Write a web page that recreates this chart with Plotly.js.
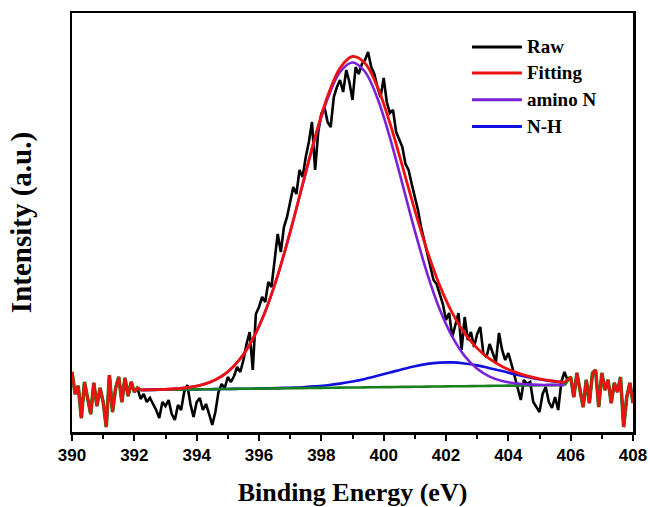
<!DOCTYPE html>
<html>
<head>
<meta charset="utf-8">
<script src="https://cdn.plot.ly/plotly-3.0.1.min.js"></script>
<style>html,body{margin:0;padding:0;background:#fff;}#chart{width:650px;height:507px;}</style>
</head>
<body>
<div id="chart"></div>
<script>
// ---- data (arbitrary intensity units) ----
const rawEnergy = [
390.0,390.1,390.2,390.3,390.4,390.5,390.6,390.7,390.8,390.9,
391.0,391.1,391.2,391.3,391.4,391.5,391.6,391.7,391.8,391.9,
392.0,392.1,392.2,392.3,392.4,392.5,392.6,392.7,392.8,392.9,
393.0,393.1,393.2,393.3,393.4,393.5,393.6,393.7,393.8,393.9,
394.0,394.1,394.2,394.3,394.4,394.5,394.6,394.7,394.8,394.9,
395.0,395.1,395.2,395.3,395.4,395.5,395.6,395.7,395.8,395.9,
396.0,396.1,396.2,396.3,396.4,396.5,396.6,396.7,396.8,396.9,
397.0,397.1,397.2,397.3,397.4,397.5,397.6,397.7,397.8,397.9,
398.0,398.1,398.2,398.3,398.4,398.5,398.6,398.7,398.8,398.9,
399.0,399.1,399.2,399.3,399.4,399.5,399.6,399.7,399.8,399.9,
400.0,400.1,400.2,400.3,400.4,400.5,400.6,400.7,400.8,400.9,
401.0,401.1,401.2,401.3,401.4,401.5,401.6,401.7,401.8,401.9,
402.0,402.1,402.2,402.3,402.4,402.5,402.6,402.7,402.8,402.9,
403.0,403.1,403.2,403.3,403.4,403.5,403.6,403.7,403.8,403.9,
404.0,404.1,404.2,404.3,404.4,404.5,404.6,404.7,404.8,404.9,
405.0,405.1,405.2,405.3,405.4,405.5,405.6,405.7,405.8,405.9,
406.0,406.1,406.2,406.3,406.4,406.5,406.6,406.7,406.8,406.9,
407.0,407.1,407.2,407.3,407.4,407.5,407.6,407.7,407.8,407.9,
408.0];
const rawIntensity = [
60,38,46,14,50,32,18,49,26,44,
30,5,57,20,44,55,30,54,36,50,
40,44,33,38,30,34,28,22,14,30,
26,32,18,12,27,22,40,47,28,15,
30,34,22,28,18,7,20,40,48,44,
55,50,56,65,60,72,88,100,62,118,
125,135,130,150,145,170,198,180,205,215,
232,245,238,262,255,275,290,310,262,300,
318,325,310,305,335,345,352,340,362,350,
332,365,358,368,372,380,365,358,345,335,
354,330,319,322,300,292,285,268,262,248,
235,222,205,192,176,165,152,148,139,128,
112,119,95,108,119,82,115,92,100,85,
98,105,78,75,88,79,70,99,82,72,
79,68,55,42,32,52,48,50,30,25,
20,38,45,30,24,35,22,50,60,52,
55,35,59,42,25,52,29,59,62,25,
59,42,52,29,49,40,55,5,35,49,
29];

const fitEnergy = [392.2,392.6,393.0,393.4,393.8,394.2,394.6,395.0,395.4,395.8,
396.2,396.6,397.0,397.4,397.8,398.2,398.6,399.0,399.4,399.8,
400.2,400.6,401.0,401.4,401.8,402.2,402.6,403.0,403.4,403.8,
404.2,404.6,405.0,405.4,405.8];
const baselineI = [42.0,42.1,42.3,42.4,42.6,42.7,42.9,43.0,43.2,43.3,
43.5,43.6,43.8,43.9,44.1,44.2,44.4,44.5,44.6,44.8,
44.9,45.1,45.2,45.4,45.5,45.7,45.8,46.0,46.1,46.3,
46.4,46.6,46.7,46.9,47.0];
const aminoNI = [42.1,42.3,42.7,43.4,44.9,47.4,52.2,60.2,73.3,92.9,
120.5,156.4,199.7,247.0,293.6,333.1,360.0,369.5,360.2,333.7,
294.4,248.2,201.1,158.2,122.5,95.3,75.9,63.2,55.4,51.0,
48.7,47.6,47.1,47.1,47.1];
const nhI = [42.0,42.1,42.3,42.4,42.6,42.7,42.9,43.0,43.2,43.3,
43.6,43.9,44.3,44.8,45.7,46.8,48.4,50.5,53.1,56.2,
59.5,62.8,65.8,68.1,69.4,69.6,68.5,66.6,63.8,60.9,
57.8,55.1,52.7,50.9,49.6];
const fittingI = [42.1,42.3,42.7,43.4,44.9,47.4,52.2,60.2,73.3,93.0,
120.6,156.7,200.2,247.9,295.2,335.7,364.0,375.5,368.7,345.1,
309.0,265.9,221.7,180.9,146.4,119.2,98.6,83.8,73.1,65.6,
60.1,56.1,53.1,51.1,49.7];

const xTicks = [390,392,394,396,398,400,402,404,406,408];
const legendNames = ['Raw','Fitting','amino N','N-H'];

// ---- styles ----
const cRaw='#000000', cFit='#ee1111', cAmino='#7a22d8', cNH='#1010e0', cBase='#18801c';

// edges: where the fit equals the raw data
const nL = rawEnergy.findIndex(e => e >= fitEnergy[0]);
const nR = rawEnergy.findIndex(e => e > fitEnergy[fitEnergy.length-1]);
const leftE = rawEnergy.slice(0,nL).concat([fitEnergy[0]]);
const rightE = [fitEnergy[fitEnergy.length-1]].concat(rawEnergy.slice(nR));
const leftFit = rawIntensity.slice(0,nL).concat([fittingI[0]]);
const rightFit = [fittingI[fittingI.length-1]].concat(rawIntensity.slice(nR));
const leftBase = rawIntensity.slice(0,nL).concat([baselineI[0]]);
const rightBase = [baselineI[baselineI.length-1]].concat(rawIntensity.slice(nR));

const traces = [
  {x:rawEnergy, y:rawIntensity, mode:'lines', name:legendNames[0], line:{color:cRaw,width:2.6}},
  {x:fitEnergy, y:nhI, mode:'lines', name:legendNames[3], line:{color:cNH,width:2.6,shape:'spline'}},
  {x:fitEnergy, y:baselineI, mode:'lines', name:'Baseline', line:{color:cBase,width:2.6,shape:'spline'}},
  {x:leftE, y:leftBase, mode:'lines', line:{color:cBase,width:3.6}},
  {x:rightE, y:rightBase, mode:'lines', line:{color:cBase,width:3.6}},
  {x:fitEnergy, y:aminoNI, mode:'lines', name:legendNames[2], line:{color:cAmino,width:2.6,shape:'spline'}},
  {x:fitEnergy, y:fittingI, mode:'lines', name:legendNames[1], line:{color:cFit,width:2.8,shape:'spline'}},
  {x:leftE, y:leftFit, mode:'lines', line:{color:cFit,width:2.6}},
  {x:rightE, y:rightFit, mode:'lines', line:{color:cFit,width:2.6}}
];

// manual legend (long line samples like the reference)
const legColors = [cRaw,cFit,cAmino,cNH];
const legY = [0.919,0.857,0.793,0.729];
const shapes = [], annotations = [];
legendNames.forEach((n,i)=>{
  shapes.push({type:'line', xref:'paper', yref:'paper', x0:0.713, x1:0.802, y0:legY[i], y1:legY[i],
    line:{color:legColors[i], width:3}});
  annotations.push({xref:'paper', yref:'paper', x:0.808, y:legY[i], xanchor:'left', yanchor:'middle',
    text:n, showarrow:false, font:{family:'Liberation Serif, Times New Roman, serif', size:19, color:'#000', weight:'bold'}});
});

const layout = {
  width:650, height:507,
  margin:{l:72, r:17, t:13, b:75, pad:0},
  paper_bgcolor:'#fff', plot_bgcolor:'#fff',
  showlegend:false,
  shapes:shapes, annotations:annotations,
  xaxis:{
    range:[390,408], tickvals:xTicks, ticks:'outside', ticklen:6, tickwidth:2, tickcolor:'#000',
    minor:{dtick:1, tick0:390, ticks:'outside', ticklen:4, tickwidth:2, tickcolor:'#000'},
    showline:true, linewidth:2.5, linecolor:'#000', mirror:true, showgrid:false, zeroline:false,
    tickfont:{family:'Liberation Sans, Arial, sans-serif', size:17, color:'#000', weight:'bold'},
    title:{text:'Binding Energy (eV)', standoff:22,
      font:{family:'Liberation Serif, Times New Roman, serif', size:26, color:'#000', weight:'bold'}}
  },
  yaxis:{
    range:[0,419], showticklabels:false, ticks:'',
    showline:true, linewidth:2.5, linecolor:'#000', mirror:true, showgrid:false, zeroline:false,
    title:{text:'Intensity (a.u.)', standoff:30,
      font:{family:'Liberation Serif, Times New Roman, serif', size:29, color:'#000', weight:'bold'}}
  }
};

Plotly.newPlot('chart', traces, layout, {displayModeBar:false, staticPlot:true});
</script>
</body>
</html>
